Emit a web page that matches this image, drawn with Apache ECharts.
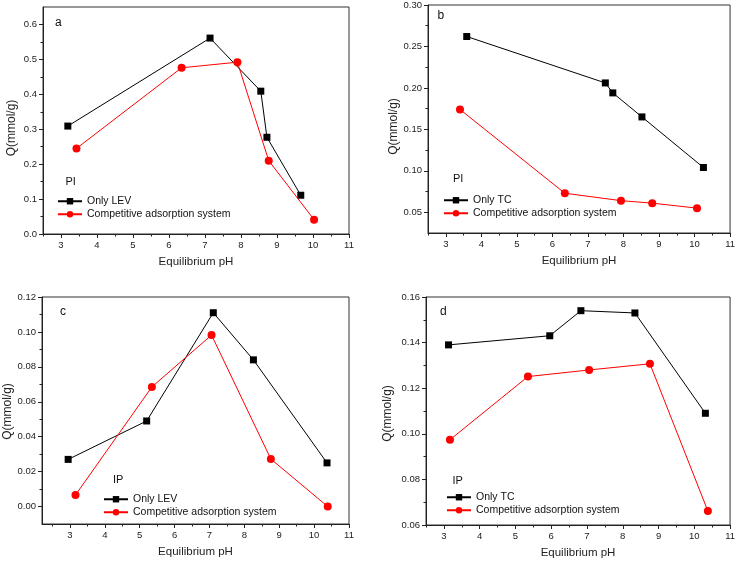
<!DOCTYPE html>
<html><head><meta charset="utf-8">
<script src="https://cdn.jsdelivr.net/npm/echarts@6/dist/echarts.min.js"></script>
<style>html,body{margin:0;padding:0;background:#fff}#c{width:738px;height:562px}</style>
</head><body><div id="c"></div>
<script>
// ---- data ----
const xTicks = [3, 4, 5, 6, 7, 8, 9, 10, 11];
const xMinor = [2.5, 3.5, 4.5, 5.5, 6.5, 7.5, 8.5, 9.5, 10.5];

const aLevX = [3.19, 7.14, 8.55, 8.72, 9.66];
const aLevY = [0.309, 0.561, 0.409, 0.277, 0.111];
const aCompX = [3.43, 6.35, 7.90, 8.77, 10.03];
const aCompY = [0.245, 0.476, 0.492, 0.210, 0.041];
const aYTicks = [0.0, 0.1, 0.2, 0.3, 0.4, 0.5, 0.6];
const aYMinor = [0.05, 0.15, 0.25, 0.35, 0.45, 0.55];

const bTcX = [3.59, 7.49, 7.70, 8.52, 10.25];
const bTcY = [0.262, 0.206, 0.194, 0.165, 0.104];
const bCompX = [3.40, 6.35, 7.93, 8.81, 10.07];
const bCompY = [0.174, 0.073, 0.064, 0.061, 0.055];
const bYTicks = [0.05, 0.10, 0.15, 0.20, 0.25, 0.30];
const bYMinor = [0.075, 0.125, 0.175, 0.225, 0.275];

const cLevX = [2.95, 5.20, 7.11, 8.26, 10.37];
const cLevY = [0.027, 0.049, 0.111, 0.084, 0.025];
const cCompX = [3.16, 5.35, 7.06, 8.76, 10.39];
const cCompY = [0.0066, 0.0685, 0.0982, 0.0272, 0.0];
const cYTicks = [0.00, 0.02, 0.04, 0.06, 0.08, 0.10, 0.12];
const cYMinor = [0.01, 0.03, 0.05, 0.07, 0.09, 0.11];

const dTcX = [3.13, 5.96, 6.83, 8.34, 10.31];
const dTcY = [0.139, 0.143, 0.154, 0.153, 0.109];
const dCompX = [3.17, 5.35, 7.06, 8.76, 10.38];
const dCompY = [0.0974, 0.1251, 0.128, 0.1307, 0.0661];
const dYTicks = [0.06, 0.08, 0.10, 0.12, 0.14, 0.16];
const dYMinor = [0.07, 0.09, 0.11, 0.13, 0.15];

const zip = (xs, ys) => xs.map((x, i) => [x, ys[i]]);
const FONT = "'Liberation Sans', Arial, sans-serif";
const AX = '#222';

const panels = [
  { grid: {left: 43, top: 7, width: 306, height: 227}, xMin: 2.5, xMax: 11, yMin: 0, yMax: 0.65,
    yTicks: aYTicks, yMinor: aYMinor, dec: 1, yGap: 25, yShift: 15,
    s1: ['Only LEV', aLevX, aLevY], s2: ['Competitive adsorption system', aCompX, aCompY],
    legend: {left: 57, top: 195}, tag: ['a', 55, 24], sys: ['PI', 65.5, 183] },
  { grid: {left: 428, top: 5, width: 304, height: 228}, xMin: 2.5, xMax: 11, yMin: 0.025, yMax: 0.30,
    yTicks: bYTicks, yMinor: bYMinor, dec: 2, yGap: 25, yShift: 15,
    s1: ['Only TC', bTcX, bTcY], s2: ['Competitive adsorption system', bCompX, bCompY],
    legend: {left: 443, top: 194}, tag: ['b', 437.5, 17], sys: ['PI', 453, 180] },
  { grid: {left: 42, top: 297, width: 307, height: 227}, xMin: 2.2, xMax: 11, yMin: -0.01, yMax: 0.12,
    yTicks: cYTicks, yMinor: cYMinor, dec: 2, yGap: 28, yShift: 2,
    s1: ['Only LEV', cLevX, cLevY], s2: ['Competitive adsorption system', cCompX, cCompY],
    legend: {left: 103, top: 493}, tag: ['c', 60, 313], sys: ['IP', 113, 481] },
  { grid: {left: 426, top: 297, width: 306, height: 228}, xMin: 2.5, xMax: 11, yMin: 0.06, yMax: 0.16,
    yTicks: dYTicks, yMinor: dYMinor, dec: 2, yGap: 32, yShift: 5,
    s1: ['Only TC', dTcX, dTcY], s2: ['Competitive adsorption system', dCompX, dCompY],
    legend: {left: 446, top: 491}, tag: ['d', 440, 313], sys: ['IP', 452.5, 482] }
];

const option = {
  animation: false,
  backgroundColor: '#fff',
  textStyle: {fontFamily: FONT},
  grid: [], xAxis: [], yAxis: [], series: [], legend: [], graphic: []
};

panels.forEach((p, i) => {
  option.grid.push(Object.assign({show: true, borderColor: '#333', borderWidth: 1, backgroundColor: 'transparent', containLabel: false}, p.grid));
  option.xAxis.push({
    gridIndex: i, type: 'value', position: 'bottom', min: p.xMin, max: p.xMax,
    axisLine: {show: true, onZero: false, lineStyle: {color: AX, width: 1}},
    axisTick: {show: true, length: 4, customValues: xTicks, lineStyle: {color: AX}},
    axisLabel: {customValues: xTicks, fontSize: 9.5, color: AX, margin: 6, fontFamily: FONT},
    splitLine: {show: false},
    name: 'Equilibrium pH', nameLocation: 'middle', nameGap: 22,
    nameTextStyle: {fontSize: 11.5, color: AX, fontFamily: FONT}
  });
  option.xAxis.push({
    gridIndex: i, type: 'value', position: 'bottom', min: p.xMin, max: p.xMax,
    axisLine: {show: false, onZero: false},
    axisTick: {show: true, length: 2.5, customValues: xMinor, lineStyle: {color: AX}},
    axisLabel: {show: false}, splitLine: {show: false}
  });
  option.yAxis.push({
    gridIndex: i, type: 'value', position: 'left', min: p.yMin, max: p.yMax,
    axisLine: {show: true, onZero: false, lineStyle: {color: AX, width: 1}},
    axisTick: {show: true, length: 4, customValues: p.yTicks, lineStyle: {color: AX}},
    axisLabel: {customValues: p.yTicks, fontSize: 9.5, color: AX, margin: 6, fontFamily: FONT,
      formatter: v => Number(v).toFixed(p.dec)},
    splitLine: {show: false},
    name: 'Q(mmol/g)', nameLocation: 'middle', nameGap: p.yGap, nameRotate: 90,
    nameTextStyle: {fontSize: 12, color: AX, fontFamily: FONT, padding: [0, p.yShift, 0, 0]}
  });
  option.yAxis.push({
    gridIndex: i, type: 'value', position: 'left', min: p.yMin, max: p.yMax,
    axisLine: {show: false, onZero: false},
    axisTick: {show: true, length: 2.5, customValues: p.yMinor, lineStyle: {color: AX}},
    axisLabel: {show: false}, splitLine: {show: false}
  });
  option.series.push({
    type: 'line', name: p.s1[0], xAxisIndex: 2 * i, yAxisIndex: 2 * i,
    data: zip(p.s1[1], p.s1[2]), symbol: 'rect', symbolSize: 7,
    lineStyle: {color: '#000', width: 1}, itemStyle: {color: '#000'}, z: 3
  });
  option.series.push({
    type: 'line', name: p.s2[0], xAxisIndex: 2 * i, yAxisIndex: 2 * i,
    data: zip(p.s2[1], p.s2[2]), symbol: 'circle', symbolSize: 8,
    lineStyle: {color: '#ff0000', width: 1}, itemStyle: {color: '#ff0000'}, z: 4
  });
  option.legend.push({
    data: [p.s1[0], p.s2[0]], orient: 'vertical', left: p.legend.left, top: p.legend.top,
    itemWidth: 24, itemHeight: 8, itemGap: 0.5, padding: 0, selectedMode: false,
    textStyle: {fontSize: 10.5, lineHeight: 12.5, color: '#111', fontFamily: FONT}
  });
  option.graphic.push({
    type: 'text', left: p.tag[1], top: p.tag[2] - 7,
    style: {text: p.tag[0], fontSize: 12, fill: '#111', fontFamily: FONT}
  });
  option.graphic.push({
    type: 'text', left: p.sys[1], top: p.sys[2] - 6.5,
    style: {text: p.sys[0], fontSize: 11, fill: '#111', fontFamily: FONT}
  });
});

const chart = echarts.init(document.getElementById('c'), null, {renderer: 'canvas'});
chart.setOption(option);
</script>
</body></html>
